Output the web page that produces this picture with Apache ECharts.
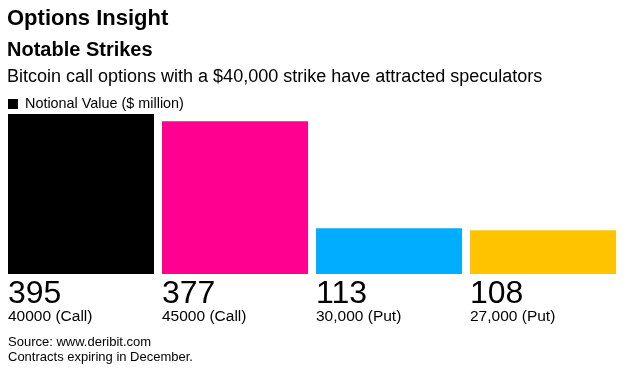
<!DOCTYPE html>
<html>
<head>
<meta charset="utf-8">
<script src="https://cdn.jsdelivr.net/npm/echarts@6/dist/echarts.min.js"></script>
<style>html,body{margin:0;padding:0;background:#fff}#c{width:625px;height:372px}</style>
</head>
<body>
<div id="c"></div>
<script>
const categories = ['40000 (Call)', '45000 (Call)', '30,000 (Put)', '27,000 (Put)'];
const values = [395, 377, 113, 108];
const barColors = ['#000000', '#ff0090', '#00adff', '#ffc300'];
const seriesName = 'Notional Value ($ million)';

const FONT = '"Liberation Sans", Arial, Helvetica, sans-serif';
const chart = echarts.init(document.getElementById('c'), null, {renderer: 'canvas'});
chart.setOption({
  backgroundColor: '#ffffff',
  animation: false,
  textStyle: {fontFamily: FONT},
  title: [
    {text: 'Options Insight', left: 7, top: 8, padding: 0,
     textStyle: {fontFamily: FONT, fontSize: 22, fontWeight: 'bold', color: '#000', lineHeight: 22}},
    {text: 'Notable Strikes', left: 7, top: 40, padding: 0,
     textStyle: {fontFamily: FONT, fontSize: 20, fontWeight: 'bold', color: '#000', lineHeight: 20}},
    {text: 'Bitcoin call options with a $40,000 strike have attracted speculators', left: 7, top: 68, padding: 0,
     textStyle: {fontFamily: FONT, fontSize: 18, fontWeight: 'normal', color: '#000', lineHeight: 18}},
    {text: 'Source: www.deribit.com', left: 8, top: 336, padding: 0,
     textStyle: {fontFamily: FONT, fontSize: 13, fontWeight: 'normal', color: '#000', lineHeight: 13}},
    {text: 'Contracts expiring in December.', left: 8, top: 351, padding: 0,
     textStyle: {fontFamily: FONT, fontSize: 13, fontWeight: 'normal', color: '#000', lineHeight: 13}}
  ],
  legend: {
    left: 8, top: 97, padding: 0,
    itemWidth: 10, itemHeight: 10, itemGap: 10,
    icon: 'rect',
    data: [seriesName],
    textStyle: {fontFamily: FONT, fontSize: 14.4, color: '#000', padding: [0, 0, 0, 2]}
  },
  grid: {left: 4, right: 5, top: 114, bottom: 98, containLabel: false},
  xAxis: {
    type: 'category', data: categories,
    axisLine: {show: false}, axisTick: {show: false}, axisLabel: {show: false}, splitLine: {show: false}
  },
  yAxis: {
    type: 'value', min: 0, max: 395, show: false, splitLine: {show: false}
  },
  series: [{
    name: seriesName,
    type: 'bar',
    barWidth: 146,
    itemStyle: {color: '#000000'},
    data: values.map((v, i) => ({value: v, itemStyle: {color: barColors[i]}})),
    label: {
      show: true,
      position: [0, '100%'],
      offset: [0, 5],
      align: 'left',
      verticalAlign: 'top',
      formatter: p => '{v|' + p.value + '}\n{c|' + p.name + '}',
      rich: {
        v: {fontFamily: FONT, fontSize: 32, lineHeight: 30, color: '#000'},
        c: {fontFamily: FONT, fontSize: 15.5, lineHeight: 16, color: '#000'}
      }
    }
  }]
});
</script>
</body>
</html>
